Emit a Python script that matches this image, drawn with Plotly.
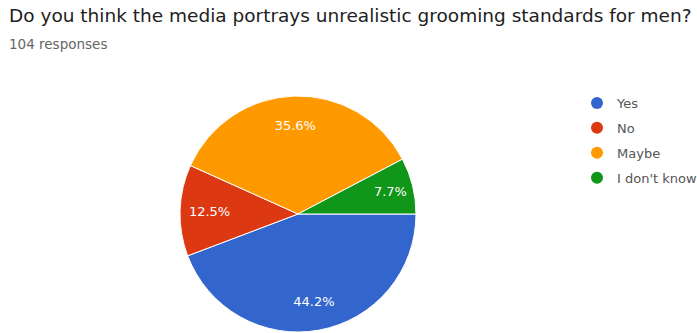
import plotly.graph_objects as go

labels = ["Yes", "No", "Maybe", "I don't know"]
counts = [46, 13, 37, 8]
colors = ["#3366cc", "#dc3912", "#ff9900", "#109618"]
title_text = "Do you think the media portrays unrealistic grooming standards for men?"
subtitle_text = "104 responses"

W, H = 697, 333
cx, cy, r = 298, 214, 118
FONT = "DejaVu Sans, Roboto, Arial, sans-serif"
dom = dict(x=[(cx - r) / W, (cx + r) / W], y=[(H - cy - r) / H, (H - cy + r) / H])

fig = go.Figure()
# coloured slices
fig.add_trace(go.Pie(
    labels=labels, values=counts, sort=False, direction="clockwise", rotation=90,
    marker=dict(colors=colors, line=dict(color="white", width=1)),
    textinfo="none", showlegend=False, hoverinfo="label+percent", domain=dom,
))
# transparent ring overlay that carries the percentage labels at ~3/4 radius
fig.add_trace(go.Pie(
    labels=labels, values=counts, sort=False, direction="clockwise", rotation=90,
    hole=0.5, marker=dict(colors=["rgba(0,0,0,0)"] * len(labels), line=dict(width=0)),
    texttemplate="%{percent:.1%}", textposition="inside", insidetextorientation="horizontal",
    textfont=dict(family=FONT, size=13, color="white"),
    showlegend=False, hoverinfo="skip", domain=dom,
))
for lab, col in zip(labels, colors):
    fig.add_trace(go.Scatter(x=[None], y=[None], mode="markers", name=lab, legendgroup=lab,
                             marker=dict(symbol="circle", size=12, color=col)))

fig.update_layout(
    width=W, height=H, margin=dict(l=0, r=0, t=0, b=0, autoexpand=False),
    paper_bgcolor="white", plot_bgcolor="white",
    xaxis=dict(visible=False), yaxis=dict(visible=False),
    uniformtext=dict(minsize=13, mode="show"),
    legend=dict(x=577 / W, y=1 - 88 / H, xanchor="left", yanchor="top",
                font=dict(family=FONT, size=13, color="#555555"),
                itemwidth=30, tracegroupgap=5, bgcolor="rgba(0,0,0,0)"),
    annotations=[
        dict(text=title_text, x=7 / W, y=1 - 3 / H, xref="paper", yref="paper",
             xanchor="left", yanchor="top", showarrow=False,
             font=dict(family=FONT, size=18.5, color="#212121")),
        dict(text=subtitle_text, x=7 / W, y=1 - 34 / H, xref="paper", yref="paper",
             xanchor="left", yanchor="top", showarrow=False,
             font=dict(family=FONT, size=13.5, color="#666666")),
    ],
)
fig.write_html("out.html", config={"displayModeBar": False},
               post_script="document.body.style.margin='0';")
